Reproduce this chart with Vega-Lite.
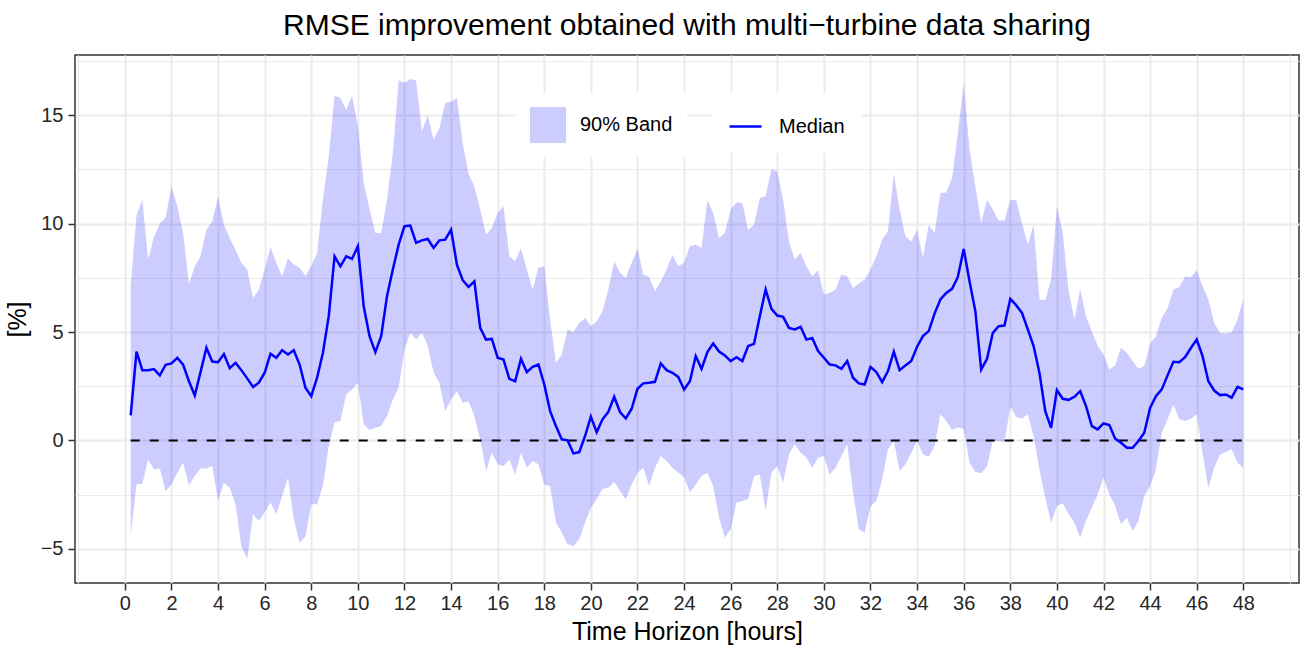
{
  "$schema": "https://vega.github.io/schema/vega-lite/v6.json",
  "width": 1224,
  "height": 528,
  "autosize": {"type": "none"},
  "padding": {"left": 75, "top": 55, "right": 2, "bottom": 71},
  "background": "white",
  "title": {"text": "RMSE improvement obtained with multi\u2212turbine data sharing", "fontSize": 30, "font": "Liberation Sans", "fontWeight": "normal", "color": "black", "anchor": "middle", "frame": "group", "baseline": "alphabetic", "offset": 20, "dy": 34},
  "config": {
    "font": "Liberation Sans",
    "view": {"stroke": "#333333", "strokeWidth": 1.5},
    "axis": {"domain": false, "gridColor": "#ebebeb", "tickColor": "#333333", "tickWidth": 1.5, "tickSize": 7, "labelFontSize": 20, "labelColor": "#262626", "labelFont": "Liberation Sans", "titleFont": "Liberation Sans", "titleFontSize": 25, "titleFontWeight": "normal", "titleColor": "black", "labelOverlap": false, "labelFlush": false}
  },
  "data": {"values": [
{"h":0.25,"lo":-4.4,"med":1.15,"hi":7.1},{"h":0.5,"lo":-2.03,"med":4.09,"hi":10.4},{"h":0.75,"lo":-2.0,"med":3.24,"hi":11.1},{"h":1.0,"lo":-0.88,"med":3.24,"hi":8.34},
{"h":1.25,"lo":-1.34,"med":3.29,"hi":9.4},{"h":1.5,"lo":-1.3,"med":3.0,"hi":10.0},{"h":1.75,"lo":-2.33,"med":3.49,"hi":10.3},{"h":2.0,"lo":-2.03,"med":3.55,"hi":11.7},
{"h":2.25,"lo":-1.49,"med":3.81,"hi":10.8},{"h":2.5,"lo":-1.03,"med":3.49,"hi":9.57},{"h":2.75,"lo":-2.07,"med":2.73,"hi":7.2},{"h":3.0,"lo":-1.64,"med":2.07,"hi":8.03},
{"h":3.25,"lo":-1.3,"med":3.16,"hi":8.5},{"h":3.5,"lo":-1.3,"med":4.27,"hi":9.72},{"h":3.75,"lo":-1.18,"med":3.64,"hi":10.1},{"h":4.0,"lo":-2.8,"med":3.61,"hi":11.26},
{"h":4.25,"lo":-1.95,"med":3.98,"hi":9.95},{"h":4.5,"lo":-2.18,"med":3.33,"hi":9.34},{"h":4.75,"lo":-2.95,"med":3.58,"hi":8.8},{"h":5.0,"lo":-4.87,"med":3.24,"hi":8.19},
{"h":5.25,"lo":-5.48,"med":2.86,"hi":7.88},{"h":5.5,"lo":-3.41,"med":2.46,"hi":6.57},{"h":5.75,"lo":-3.72,"med":2.66,"hi":6.96},{"h":6.0,"lo":-3.33,"med":3.12,"hi":7.88},
{"h":6.25,"lo":-2.87,"med":4.0,"hi":8.92},{"h":6.5,"lo":-3.41,"med":3.81,"hi":8.19},{"h":6.75,"lo":-2.57,"med":4.16,"hi":7.57},{"h":7.0,"lo":-1.72,"med":3.96,"hi":8.39},
{"h":7.25,"lo":-3.64,"med":4.16,"hi":8.11},{"h":7.5,"lo":-4.72,"med":3.5,"hi":7.96},{"h":7.75,"lo":-4.44,"med":2.43,"hi":7.6},{"h":8.0,"lo":-2.95,"med":2.04,"hi":8.05},
{"h":8.25,"lo":-2.95,"med":2.89,"hi":8.65},{"h":8.5,"lo":-2.1,"med":4.04,"hi":11.1},{"h":8.75,"lo":-0.26,"med":5.73,"hi":13.1},{"h":9.0,"lo":0.84,"med":8.49,"hi":15.9},
{"h":9.25,"lo":0.89,"med":8.03,"hi":15.8},{"h":9.5,"lo":2.12,"med":8.49,"hi":15.25},{"h":9.75,"lo":2.35,"med":8.37,"hi":15.9},{"h":10.0,"lo":2.66,"med":8.96,"hi":14.5},
{"h":10.25,"lo":0.74,"med":6.19,"hi":11.87},{"h":10.5,"lo":0.48,"med":4.81,"hi":10.7},{"h":10.75,"lo":0.58,"med":4.07,"hi":9.57},{"h":11.0,"lo":0.66,"med":4.81,"hi":9.57},
{"h":11.25,"lo":1.12,"med":6.65,"hi":11.1},{"h":11.5,"lo":1.89,"med":7.88,"hi":13.26},{"h":11.75,"lo":2.43,"med":9.03,"hi":16.6},{"h":12.0,"lo":4.19,"med":9.88,"hi":16.5},
{"h":12.25,"lo":4.96,"med":9.91,"hi":16.67},{"h":12.5,"lo":4.65,"med":9.11,"hi":16.6},{"h":12.75,"lo":4.96,"med":9.23,"hi":14.25},{"h":13.0,"lo":4.35,"med":9.29,"hi":15.0},
{"h":13.25,"lo":3.12,"med":8.88,"hi":13.87},{"h":13.5,"lo":2.66,"med":9.23,"hi":14.4},{"h":13.75,"lo":1.35,"med":9.26,"hi":15.56},{"h":14.0,"lo":1.89,"med":9.72,"hi":15.64},
{"h":14.25,"lo":2.27,"med":8.11,"hi":15.8},{"h":14.5,"lo":1.74,"med":7.39,"hi":13.7},{"h":14.75,"lo":1.81,"med":7.08,"hi":12.3},{"h":15.0,"lo":1.12,"med":7.34,"hi":11.7},
{"h":15.25,"lo":0.05,"med":5.19,"hi":10.65},{"h":15.5,"lo":-1.41,"med":4.65,"hi":9.49},{"h":15.75,"lo":-0.57,"med":4.68,"hi":9.8},{"h":16.0,"lo":-1.1,"med":3.81,"hi":10.5},
{"h":16.25,"lo":-1.18,"med":3.73,"hi":10.8},{"h":16.5,"lo":-0.88,"med":2.84,"hi":8.49},{"h":16.75,"lo":-1.57,"med":2.73,"hi":8.26},{"h":17.0,"lo":-0.57,"med":3.76,"hi":8.88},
{"h":17.25,"lo":-1.26,"med":3.15,"hi":7.88},{"h":17.5,"lo":-0.95,"med":3.39,"hi":6.96},{"h":17.75,"lo":-1.1,"med":3.5,"hi":7.96},{"h":18.0,"lo":-2.03,"med":2.58,"hi":8.03},
{"h":18.25,"lo":-2.1,"med":1.35,"hi":5.58},{"h":18.5,"lo":-3.79,"med":0.66,"hi":3.58},{"h":18.75,"lo":-4.25,"med":0.05,"hi":3.96},{"h":19.0,"lo":-4.79,"med":0.0,"hi":5.12},
{"h":19.25,"lo":-4.87,"med":-0.6,"hi":5.0},{"h":19.5,"lo":-4.56,"med":-0.54,"hi":5.42},{"h":19.75,"lo":-3.79,"med":0.2,"hi":5.65},{"h":20.0,"lo":-3.1,"med":1.09,"hi":5.27},
{"h":20.25,"lo":-2.72,"med":0.38,"hi":5.5},{"h":20.5,"lo":-2.23,"med":0.97,"hi":5.96},{"h":20.75,"lo":-2.18,"med":1.32,"hi":6.96},{"h":21.0,"lo":-1.92,"med":2.01,"hi":8.26},
{"h":21.25,"lo":-2.33,"med":1.31,"hi":7.73},{"h":21.5,"lo":-2.72,"med":1.01,"hi":7.5},{"h":21.75,"lo":-2.03,"med":1.46,"hi":8.19},{"h":22.0,"lo":-1.49,"med":2.38,"hi":8.85},
{"h":22.25,"lo":-1.26,"med":2.63,"hi":7.65},{"h":22.5,"lo":-2.1,"med":2.66,"hi":7.54},{"h":22.75,"lo":-1.26,"med":2.7,"hi":6.88},{"h":23.0,"lo":-0.72,"med":3.55,"hi":7.34},
{"h":23.25,"lo":-0.95,"med":3.24,"hi":7.88},{"h":23.5,"lo":-1.26,"med":3.12,"hi":8.57},{"h":23.75,"lo":-1.49,"med":2.93,"hi":8.03},{"h":24.0,"lo":-1.7,"med":2.35,"hi":8.2},
{"h":24.25,"lo":-2.41,"med":2.73,"hi":8.96},{"h":24.5,"lo":-2.03,"med":3.89,"hi":9.03},{"h":24.75,"lo":-1.64,"med":3.3,"hi":8.88},{"h":25.0,"lo":-1.49,"med":4.07,"hi":11.1},
{"h":25.25,"lo":-2.1,"med":4.47,"hi":10.49},{"h":25.5,"lo":-3.56,"med":4.1,"hi":9.34},{"h":25.75,"lo":-4.49,"med":3.92,"hi":9.57},{"h":26.0,"lo":-4.1,"med":3.66,"hi":10.65},
{"h":26.25,"lo":-2.87,"med":3.84,"hi":10.98},{"h":26.5,"lo":-2.8,"med":3.66,"hi":10.95},{"h":26.75,"lo":-2.69,"med":4.35,"hi":9.69},{"h":27.0,"lo":-1.64,"med":4.45,"hi":9.95},
{"h":27.25,"lo":-1.57,"med":5.73,"hi":11.18},{"h":27.5,"lo":-3.26,"med":6.96,"hi":11.26},{"h":27.75,"lo":-1.49,"med":6.07,"hi":12.52},{"h":28.0,"lo":-1.18,"med":5.76,"hi":12.41},
{"h":28.25,"lo":-1.95,"med":5.7,"hi":11.1},{"h":28.5,"lo":-0.65,"med":5.19,"hi":9.18},{"h":28.75,"lo":-0.18,"med":5.12,"hi":8.34},{"h":29.0,"lo":-0.57,"med":5.24,"hi":8.65},
{"h":29.25,"lo":-0.8,"med":4.65,"hi":8.03},{"h":29.5,"lo":-1.26,"med":4.72,"hi":7.57},{"h":29.75,"lo":-0.8,"med":4.12,"hi":7.85},{"h":30.0,"lo":-0.72,"med":3.81,"hi":6.73},
{"h":30.25,"lo":-1.57,"med":3.5,"hi":6.8},{"h":30.5,"lo":-1.26,"med":3.46,"hi":6.96},{"h":30.75,"lo":-0.72,"med":3.3,"hi":7.65},{"h":31.0,"lo":-0.18,"med":3.66,"hi":7.57},
{"h":31.25,"lo":-2.41,"med":2.89,"hi":7.03},{"h":31.5,"lo":-4.1,"med":2.63,"hi":7.23},{"h":31.75,"lo":-4.25,"med":2.58,"hi":7.42},{"h":32.0,"lo":-3.05,"med":3.39,"hi":7.88},
{"h":32.25,"lo":-2.8,"med":3.15,"hi":8.49},{"h":32.5,"lo":-1.8,"med":2.69,"hi":9.26},{"h":32.75,"lo":-0.41,"med":3.2,"hi":9.65},{"h":33.0,"lo":-0.03,"med":4.09,"hi":12.33},
{"h":33.25,"lo":-1.41,"med":3.24,"hi":10.65},{"h":33.5,"lo":-1.1,"med":3.46,"hi":9.42},{"h":33.75,"lo":-0.57,"med":3.66,"hi":9.18},{"h":34.0,"lo":-0.03,"med":4.32,"hi":9.72},
{"h":34.25,"lo":-0.65,"med":4.81,"hi":8.42},{"h":34.5,"lo":-0.75,"med":5.04,"hi":9.95},{"h":34.75,"lo":-0.26,"med":5.85,"hi":9.57},{"h":35.0,"lo":1.2,"med":6.5,"hi":11.41},
{"h":35.25,"lo":0.89,"med":6.8,"hi":11.44},{"h":35.5,"lo":0.48,"med":6.99,"hi":12.1},{"h":35.75,"lo":0.61,"med":7.54,"hi":14.18},{"h":36.0,"lo":0.51,"med":8.83,"hi":16.48},
{"h":36.25,"lo":-1.03,"med":7.34,"hi":13.41},{"h":36.5,"lo":-1.46,"med":5.96,"hi":11.72},{"h":36.75,"lo":-1.52,"med":3.27,"hi":10.03},{"h":37.0,"lo":-1.21,"med":3.76,"hi":11.1},
{"h":37.25,"lo":-0.03,"med":4.96,"hi":10.65},{"h":37.5,"lo":-0.03,"med":5.27,"hi":10.14},{"h":37.75,"lo":-0.08,"med":5.3,"hi":10.14},{"h":38.0,"lo":1.55,"med":6.53,"hi":11.08},
{"h":38.25,"lo":1.09,"med":6.24,"hi":11.1},{"h":38.5,"lo":1.0,"med":5.88,"hi":10.03},{"h":38.75,"lo":1.2,"med":5.12,"hi":9.03},{"h":39.0,"lo":0.2,"med":4.35,"hi":9.95},
{"h":39.25,"lo":-1.34,"med":3.12,"hi":6.5},{"h":39.5,"lo":-2.64,"med":1.35,"hi":6.47},{"h":39.75,"lo":-3.79,"med":0.58,"hi":7.42},{"h":40.0,"lo":-3.03,"med":2.32,"hi":10.8},
{"h":40.25,"lo":-2.9,"med":1.92,"hi":9.6},{"h":40.5,"lo":-3.41,"med":1.87,"hi":6.9},{"h":40.75,"lo":-3.79,"med":2.01,"hi":5.58},{"h":41.0,"lo":-4.49,"med":2.27,"hi":6.96},
{"h":41.25,"lo":-3.72,"med":1.58,"hi":5.73},{"h":41.5,"lo":-3.1,"med":0.66,"hi":5.04},{"h":41.75,"lo":-2.49,"med":0.51,"hi":4.35},{"h":42.0,"lo":-1.72,"med":0.78,"hi":3.96},
{"h":42.25,"lo":-2.49,"med":0.71,"hi":3.27},{"h":42.5,"lo":-3.03,"med":0.08,"hi":3.46},{"h":42.75,"lo":-3.87,"med":-0.11,"hi":4.27},{"h":43.0,"lo":-3.56,"med":-0.34,"hi":4.04},
{"h":43.25,"lo":-4.18,"med":-0.34,"hi":3.66},{"h":43.5,"lo":-3.72,"med":-0.03,"hi":3.3},{"h":43.75,"lo":-2.57,"med":0.35,"hi":3.43},{"h":44.0,"lo":-2.1,"med":1.5,"hi":4.47},
{"h":44.25,"lo":-1.34,"med":2.04,"hi":4.81},{"h":44.5,"lo":0.35,"med":2.35,"hi":5.65},{"h":44.75,"lo":0.97,"med":3.0,"hi":6.11},{"h":45.0,"lo":1.66,"med":3.63,"hi":6.96},
{"h":45.25,"lo":0.97,"med":3.61,"hi":7.07},{"h":45.5,"lo":0.89,"med":3.84,"hi":7.57},{"h":45.75,"lo":1.0,"med":4.26,"hi":7.54},{"h":46.0,"lo":1.2,"med":4.65,"hi":7.85},
{"h":46.25,"lo":-0.57,"med":3.89,"hi":7.11},{"h":46.5,"lo":-2.18,"med":2.73,"hi":6.5},{"h":46.75,"lo":-1.26,"med":2.3,"hi":5.42},{"h":47.0,"lo":-0.65,"med":2.09,"hi":4.96},
{"h":47.25,"lo":-0.54,"med":2.12,"hi":4.93},{"h":47.5,"lo":-0.41,"med":1.97,"hi":4.99},{"h":47.75,"lo":-1.03,"med":2.47,"hi":5.58},{"h":48.0,"lo":-1.26,"med":2.35,"hi":6.5}
  ]},
  "layer": [
    {
      "mark": {"type": "area", "opacity": 0.2},
      "encoding": {
        "x": {"field": "h", "type": "quantitative", "scale": {"domain": [-2.14, 50.39], "nice": false, "zero": false},
          "axis": {"values": [-2,-1,0,1,2,3,4,5,6,7,8,9,10,11,12,13,14,15,16,17,18,19,20,21,22,23,24,25,26,27,28,29,30,31,32,33,34,35,36,37,38,39,40,41,42,43,44,45,46,47,48,49,50],
            "labelExpr": "(datum.value % 2 == 0 && datum.value >= 0 && datum.value <= 48) ? datum.label : ''",
            "tickOpacity": {"condition": {"test": "datum.value % 2 != 0 || datum.value < 0 || datum.value > 48", "value": 0}, "value": 1},
            "gridWidth": {"condition": {"test": "datum.value % 2 != 0 || datum.value < 0 || datum.value > 48", "value": 1.2}, "value": 2},
            "labelPadding": 3, "title": "Time Horizon [hours]", "titlePadding": 6}},
        "y": {"field": "lo", "type": "quantitative", "scale": {"domain": [-6.58, 17.78], "nice": false, "zero": false},
          "axis": {"values": [-5,-2.5,0,2.5,5,7.5,10,12.5,15,17.5],
            "labelExpr": "datum.value % 5 == 0 ? datum.label : ''",
            "tickOpacity": {"condition": {"test": "datum.value % 5 != 0", "value": 0}, "value": 1},
            "gridWidth": {"condition": {"test": "datum.value % 5 != 0", "value": 1.2}, "value": 2},
            "labelPadding": 5, "title": "[%]", "titlePadding": 10}},
        "y2": {"field": "hi"},
        "fill": {"datum": "90% Band", "type": "nominal", "scale": {"domain": ["90% Band"], "range": ["blue"]},
          "legend": {"title": null, "orient": "none", "legendX": 441, "legendY": 38, "fillColor": "white", "padding": 14,
            "symbolType": "square", "symbolSize": 1296, "symbolOpacity": 0.2, "symbolStrokeWidth": 0,
            "labelFontSize": 20, "labelColor": "black", "labelOffset": 14, "labelLimit": 300}}
      }
    },
    {
      "mark": {"type": "line", "color": "black", "strokeWidth": 2, "strokeDash": [9, 10]},
      "encoding": {
        "x": {"field": "h", "type": "quantitative"},
        "y": {"datum": 0}
      }
    },
    {
      "mark": {"type": "line", "strokeWidth": 2.5},
      "encoding": {
        "x": {"field": "h", "type": "quantitative"},
        "y": {"field": "med", "type": "quantitative"},
        "stroke": {"datum": "Median", "type": "nominal", "scale": {"domain": ["Median"], "range": ["blue"]},
          "legend": {"title": null, "orient": "none", "legendX": 637, "legendY": 38, "fillColor": "white", "padding": 16,
            "symbolType": "stroke", "symbolSize": 1024, "symbolStrokeWidth": 2.5,
            "labelFontSize": 20, "labelColor": "black", "labelOffset": 16, "labelLimit": 300}}
      }
    }
  ]
}
